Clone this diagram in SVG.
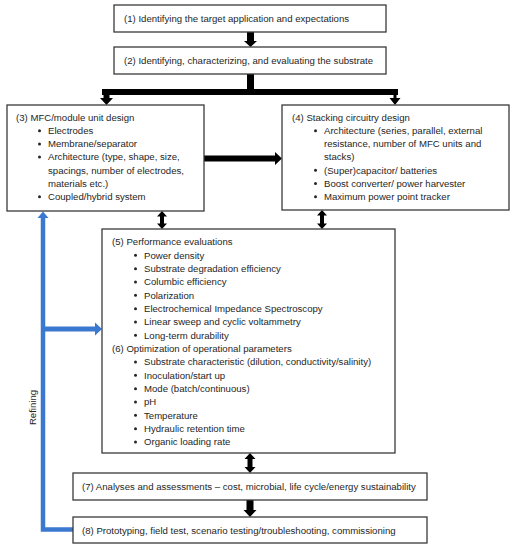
<svg xmlns="http://www.w3.org/2000/svg" width="516" height="550" viewBox="0 0 516 550">
<style>
.box{fill:#fff;stroke:#3a3a3a;stroke-width:1.3}
text{font-family:"Liberation Sans",Arial,sans-serif;font-size:9.6px;fill:#262626}
.b{fill:#262626}
.arr{fill:#000}
.blue{fill:none;stroke:#3b78d0;stroke-width:4.5}
.bluefill{fill:#3b78d0}
</style>
<rect width="516" height="550" fill="#fff"/>
<g id="connectors">
<polygon class="arr" points="247,32 254,32 254,41 257,41 250.5,47 244,41 247,41"/>
<polygon class="arr" points="247,74 254,74 254,89 398,89 398,95 396.5,95 396.5,98 400.5,98 395,105 389.5,98 393.5,98 393.5,95 109.5,95 109.5,98 113,98 106.5,105 100,98 103.5,98 103.5,95 102,95 102,89 247,89"/>
<polygon class="arr" points="204,155.5 275,155.5 275,152 282,158.5 275,165 275,161.5 204,161.5"/>
<polygon class="arr" points="162,211 167,216.5 164,216.5 164,223.5 167,223.5 162,229 157,223.5 160,223.5 160,216.5 157,216.5"/>
<polygon class="arr" points="322,210 327,215.5 324,215.5 324,223.5 327,223.5 322,229 317,223.5 320,223.5 320,215.5 317,215.5"/>
<polygon class="arr" points="250,453 255.5,459 252.5,459 252.5,467 255.5,467 250,473 244.5,467 247.5,467 247.5,459 244.5,459"/>
<polygon class="arr" points="246.5,500 253.5,500 253.5,510 256.5,510 250,517 243.5,510 246.5,510"/>
<polyline class="blue" points="73,529.5 43,529.5 43,217"/>
<polygon class="bluefill" points="43,211.5 48.5,218 37.5,218"/>
<line class="blue" x1="43" y1="329" x2="96" y2="329" style="stroke-width:5"/>
<polygon class="bluefill" points="102,329 95,322.5 95,335.5"/>
<text transform="translate(35.5,407.5) rotate(-90)" text-anchor="middle">Refining</text>
</g>
<g id="node1">
<rect class="box" x="114" y="5" width="272" height="27"/>
<text x="124" y="21.8">(1) Identifying the target application and expectations</text>
</g>
<g id="node2">
<rect class="box" x="114" y="47" width="272" height="27"/>
<text x="124" y="64.3">(2) Identifying, characterizing, and evaluating the substrate</text>
</g>
<g id="node3">
<rect class="box" x="7" y="105" width="197" height="106"/>
<text x="16" y="120.8">(3) MFC/module unit design</text>
<circle class="b" cx="39.5" cy="130.7" r="1.5"/><text x="48" y="134">Electrodes</text>
<circle class="b" cx="39.5" cy="143.9" r="1.5"/><text x="48" y="147.2">Membrane/separator</text>
<circle class="b" cx="39.5" cy="157.1" r="1.5"/><text x="48" y="160.4">Architecture (type, shape, size,</text>
<text x="48" y="173.6">spacings, number of electrodes,</text>
<text x="48" y="186.8">materials etc.)</text>
<circle class="b" cx="39.5" cy="196.7" r="1.5"/><text x="48" y="200">Coupled/hybrid system</text>
</g>
<g id="node4">
<rect class="box" x="282" y="105" width="227" height="105"/>
<text x="292" y="120.8">(4) Stacking circuitry design</text>
<circle class="b" cx="315.5" cy="130.7" r="1.5"/><text x="324" y="134">Architecture (series, parallel, external</text>
<text x="324" y="147.2">resistance, number of MFC units and</text>
<text x="324" y="160.4">stacks)</text>
<circle class="b" cx="315.5" cy="170.3" r="1.5"/><text x="324" y="173.6">(Super)capacitor/ batteries</text>
<circle class="b" cx="315.5" cy="183.5" r="1.5"/><text x="324" y="186.8">Boost converter/ power harvester</text>
<circle class="b" cx="315.5" cy="196.7" r="1.5"/><text x="324" y="200">Maximum power point tracker</text>
</g>
<g id="node5">
<rect class="box" x="102" y="229" width="293" height="224"/>
<text x="112" y="245.3">(5) Performance evaluations</text>
<circle class="b" cx="135.5" cy="255.3" r="1.5"/><text x="144" y="258.6">Power density</text>
<circle class="b" cx="135.5" cy="268.7" r="1.5"/><text x="144" y="272">Substrate degradation efficiency</text>
<circle class="b" cx="135.5" cy="282" r="1.5"/><text x="144" y="285.3">Columbic efficiency</text>
<circle class="b" cx="135.5" cy="295.3" r="1.5"/><text x="144" y="298.6">Polarization</text>
<circle class="b" cx="135.5" cy="308.7" r="1.5"/><text x="144" y="312">Electrochemical Impedance Spectroscopy</text>
<circle class="b" cx="135.5" cy="322" r="1.5"/><text x="144" y="325.3">Linear sweep and cyclic voltammetry</text>
<circle class="b" cx="135.5" cy="335.3" r="1.5"/><text x="144" y="338.6">Long-term durability</text>
<text x="112" y="352">(6) Optimization of operational parameters</text>
<circle class="b" cx="135.5" cy="362" r="1.5"/><text x="144" y="365.3">Substrate characteristic (dilution, conductivity/salinity)</text>
<circle class="b" cx="135.5" cy="375.3" r="1.5"/><text x="144" y="378.6">Inoculation/start up</text>
<circle class="b" cx="135.5" cy="388.7" r="1.5"/><text x="144" y="392">Mode (batch/continuous)</text>
<circle class="b" cx="135.5" cy="402" r="1.5"/><text x="144" y="405.3">pH</text>
<circle class="b" cx="135.5" cy="415.3" r="1.5"/><text x="144" y="418.6">Temperature</text>
<circle class="b" cx="135.5" cy="428.7" r="1.5"/><text x="144" y="432">Hydraulic retention time</text>
<circle class="b" cx="135.5" cy="442" r="1.5"/><text x="144" y="445.3">Organic loading rate</text>
</g>
<g id="node7">
<rect class="box" x="73" y="473" width="354" height="27"/>
<text x="82" y="490.3">(7) Analyses and assessments – cost, microbial, life cycle/energy sustainability</text>
</g>
<g id="node8">
<rect class="box" x="73" y="517" width="354" height="26"/>
<text x="82" y="533.8">(8) Prototyping, field test, scenario testing/troubleshooting, commissioning</text>
</g>
</svg>
